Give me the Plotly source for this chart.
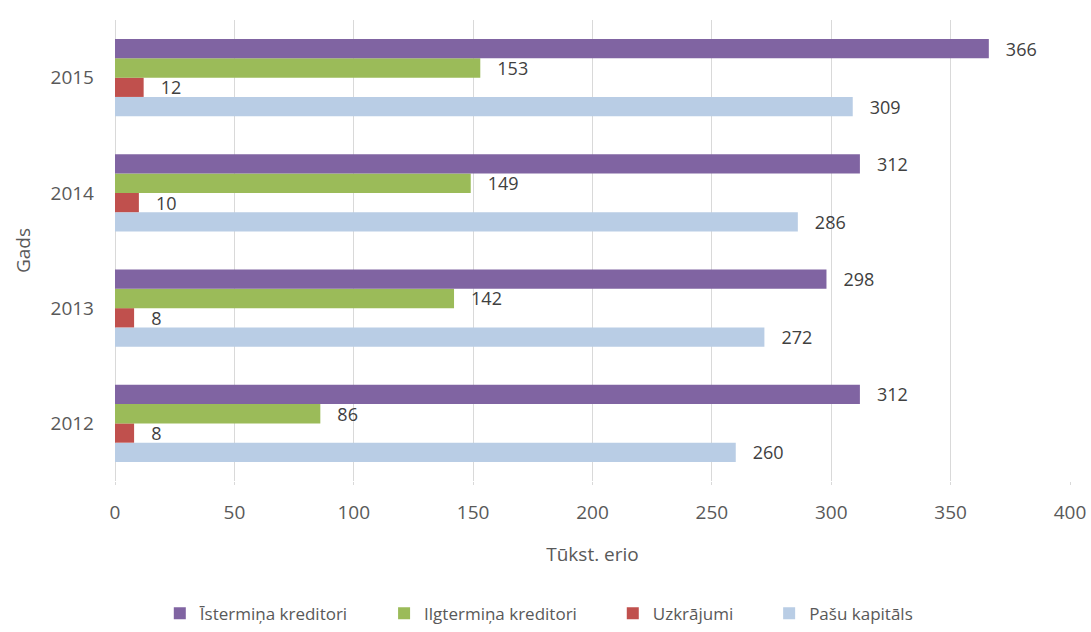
import plotly.graph_objects as go

years = ["2012", "2013", "2014", "2015"]
istermina = [312, 298, 312, 366]
ilgtermina = [86, 142, 149, 153]
uzkrajumi = [8, 8, 10, 12]
pasu_kapitals = [260, 272, 286, 309]

series = [
    ("Pašu kapitāls", pasu_kapitals, "#B9CDE5"),
    ("Uzkrājumi", uzkrajumi, "#C0504D"),
    ("Ilgtermiņa kreditori", ilgtermina, "#9BBB59"),
    ("Īstermiņa kreditori", istermina, "#8064A2"),
]

fig = go.Figure()
for name, vals, color in series:
    fig.add_trace(go.Bar(
        y=years, x=vals, name=name + "\u00a0" * 7, orientation="h",
        marker=dict(color=color, line=dict(width=0)),
        text=["\u00a0\u00a0\u00a0" + str(v) for v in vals], textposition="outside",
        constraintext="none",
        textfont=dict(size=18, color="#404040"),
        cliponaxis=False,
    ))

font_family = "Open Sans, DejaVu Sans, sans-serif"
fig.update_layout(
    width=1091, height=632,
    margin=dict(l=115, r=21, t=20, b=151, autoexpand=False),
    paper_bgcolor="white", plot_bgcolor="white",
    barmode="group", bargap=0.33, bargroupgap=0,
    font=dict(family=font_family, size=18, color="#595959"),
    showlegend=True,
    legend=dict(orientation="h", x=0.46, xanchor="center", y=-0.288, yanchor="middle",
                traceorder="reversed", font=dict(size=17, color="#595959"),
                itemwidth=30),
    xaxis=dict(range=[0, 400], dtick=50, showgrid=True, gridcolor="#D9D9D9", gridwidth=1,
               zeroline=True, zerolinecolor="#D9D9D9", zerolinewidth=1,
               ticks="outside", ticklen=3, tickcolor="#D9D9D9",
               ticklabelstandoff=11, automargin=False,
               tickfont=dict(size=19, color="#595959"),
               title=dict(text="Tūkst. erio", font=dict(size=19, color="#595959"), standoff=23)),
    yaxis=dict(type="category", categoryorder="array", categoryarray=years,
               showgrid=False, ticks="", tickfont=dict(size=19, color="#595959"),
               ticklabelstandoff=20, automargin=False,
               title=dict(text="Gads", font=dict(size=19, color="#595959"), standoff=14)),
)

fig.write_html("out.html")
